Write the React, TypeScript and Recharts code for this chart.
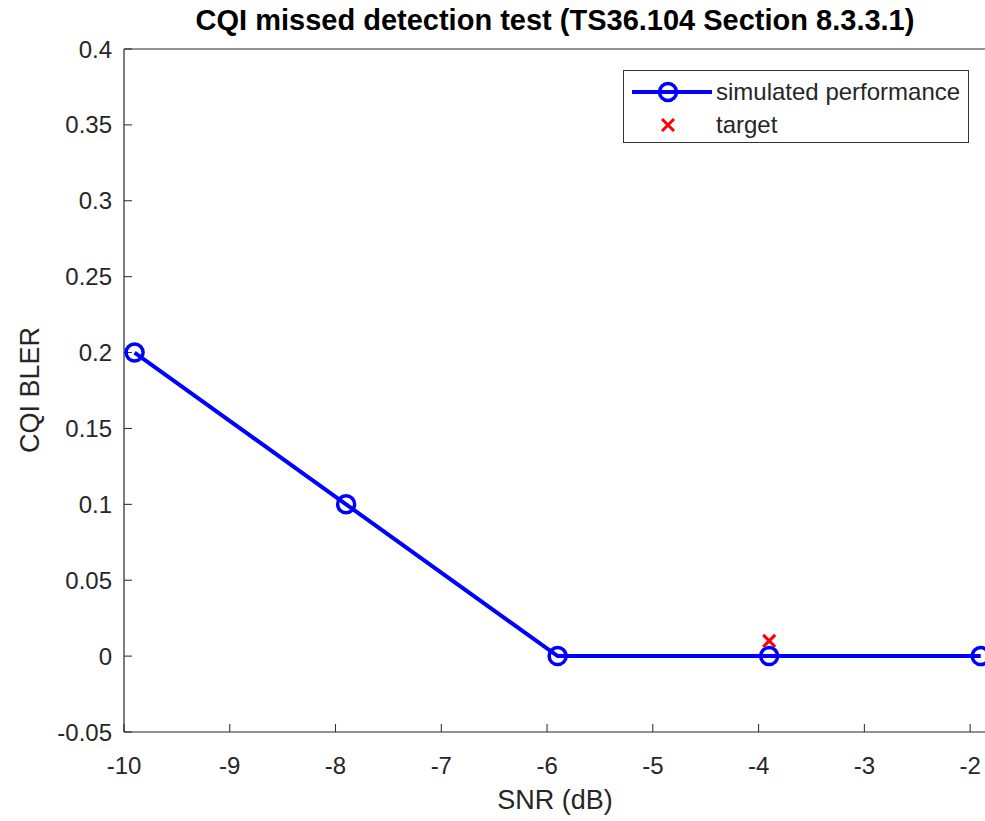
import {
  ComposedChart,
  Line,
  Scatter,
  XAxis,
  YAxis,
} from 'recharts';

const snrValues = [-9.9, -7.9, -5.9, -3.9, -1.9];
const blerValues = [0.2, 0.1, 0, 0, 0];
const targetSnr = [-3.9];
const targetBler = [0.01];
const xTicks = [-10, -9, -8, -7, -6, -5, -4, -3, -2];
const yTicks = [-0.05, 0, 0.05, 0.1, 0.15, 0.2, 0.25, 0.3, 0.35, 0.4];

const simulated = snrValues.map((snr, i) => ({ snr, bler: blerValues[i] }));
const target = targetSnr.map((snr, i) => ({ snr, bler: targetBler[i] }));

const FONT = 'Arial, "Liberation Sans", Helvetica, sans-serif';
const AXIS = '#262626';
const BLUE = '#0000ff';
const RED = '#ff0000';

const X_DOMAIN: [number, number] = [-10, -1.85];
const Y_DOMAIN: [number, number] = [-0.05, 0.4];

function XMark({ cx, cy }: { cx?: number; cy?: number }) {
  if (cx == null || cy == null) return null;
  const s = 6;
  return (
    <g stroke={RED} strokeWidth={3}>
      <line x1={cx - s} y1={cy - s} x2={cx + s} y2={cy + s} />
      <line x1={cx - s} y1={cy + s} x2={cx + s} y2={cy - s} />
    </g>
  );
}

function LegendBox() {
  return (
    <div
      style={{
        position: 'absolute',
        left: 623,
        top: 70,
        width: 344,
        height: 71,
        border: '1.5px solid #333',
        background: '#fff',
        fontFamily: FONT,
        fontSize: 24,
        color: '#262626',
      }}
    >
      <svg width={90} height={71} style={{ position: 'absolute', left: 0, top: 0 }}>
        <line x1={8} y1={21} x2={88} y2={21} stroke={BLUE} strokeWidth={4} />
        <circle cx={44} cy={21} r={8.5} fill="none" stroke={BLUE} strokeWidth={3.5} />
        <XMark cx={44} cy={54} />
      </svg>
      <div style={{ position: 'absolute', left: 92, top: 6, lineHeight: '30px' }}>
        simulated performance
      </div>
      <div style={{ position: 'absolute', left: 92, top: 39, lineHeight: '30px' }}>
        target
      </div>
    </div>
  );
}

export default function App() {
  return (
    <div
      style={{
        position: 'fixed',
        left: 0,
        top: 0,
        width: 985,
        height: 821,
        overflow: 'hidden',
        background: '#fff',
        fontFamily: FONT,
      }}
    >
      <div
        style={{
          position: 'absolute',
          left: 124,
          width: 862,
          top: 3,
          textAlign: 'center',
          fontSize: 29,
          fontWeight: 'bold',
          color: '#000',
          lineHeight: '34px',
          whiteSpace: 'nowrap',
        }}
      >
        CQI missed detection test (TS36.104 Section 8.3.3.1)
      </div>
      <div
        style={{
          position: 'absolute',
          left: 124,
          width: 862,
          top: 784,
          textAlign: 'center',
          fontSize: 27,
          color: AXIS,
          lineHeight: '32px',
        }}
      >
        SNR (dB)
      </div>
      <div
        style={{
          position: 'absolute',
          left: 30,
          top: 390,
          transform: 'translate(-50%, -50%) rotate(-90deg)',
          fontSize: 27,
          color: AXIS,
          whiteSpace: 'nowrap',
        }}
      >
        CQI BLER
      </div>

      <div style={{ position: 'absolute', left: 0, top: 0, width: 1000 }}>
        <ComposedChart
          width={1000}
          height={821}
          data={simulated}
          margin={{ top: 48, right: 13, bottom: 49, left: 44 }}
        >
          <XAxis
            dataKey="snr"
            type="number"
            domain={X_DOMAIN}
            ticks={xTicks}
            height={40}
            tickSize={-8}
            tickMargin={33}
            tick={{ fontSize: 24, fill: AXIS, fontFamily: FONT }}
            axisLine={{ stroke: AXIS, strokeWidth: 1.2 }}
            tickLine={{ stroke: AXIS }}
          />
          <XAxis
            xAxisId="top"
            orientation="top"
            dataKey="snr"
            type="number"
            domain={X_DOMAIN}
            ticks={xTicks}
            height={1}
            tickSize={-8}
            tick={false}
            axisLine={{ stroke: AXIS, strokeWidth: 1.2 }}
            tickLine={{ stroke: AXIS }}
          />
          <YAxis
            type="number"
            domain={Y_DOMAIN}
            ticks={yTicks}
            width={80}
            tickSize={-8}
            tickMargin={20}
            tick={{ fontSize: 24, fill: AXIS, fontFamily: FONT }}
            axisLine={{ stroke: AXIS, strokeWidth: 1.2 }}
            tickLine={{ stroke: AXIS }}
          />
          <YAxis
            yAxisId="right"
            orientation="right"
            type="number"
            domain={Y_DOMAIN}
            ticks={yTicks}
            width={1}
            tickSize={-8}
            tick={false}
            axisLine={{ stroke: AXIS, strokeWidth: 1.2 }}
            tickLine={{ stroke: AXIS }}
          />
          <Line
            dataKey="bler"
            stroke={BLUE}
            strokeWidth={4}
            dot={{ r: 8.5, fill: 'none', stroke: BLUE, strokeWidth: 3.5 }}
            activeDot={false}
            isAnimationActive={false}
          />
          <Scatter
            data={target}
            dataKey="bler"
            shape={(p: any) => <XMark cx={p.cx} cy={p.cy} />}
            isAnimationActive={false}
          />
        </ComposedChart>
      </div>
      <LegendBox />
    </div>
  );
}
